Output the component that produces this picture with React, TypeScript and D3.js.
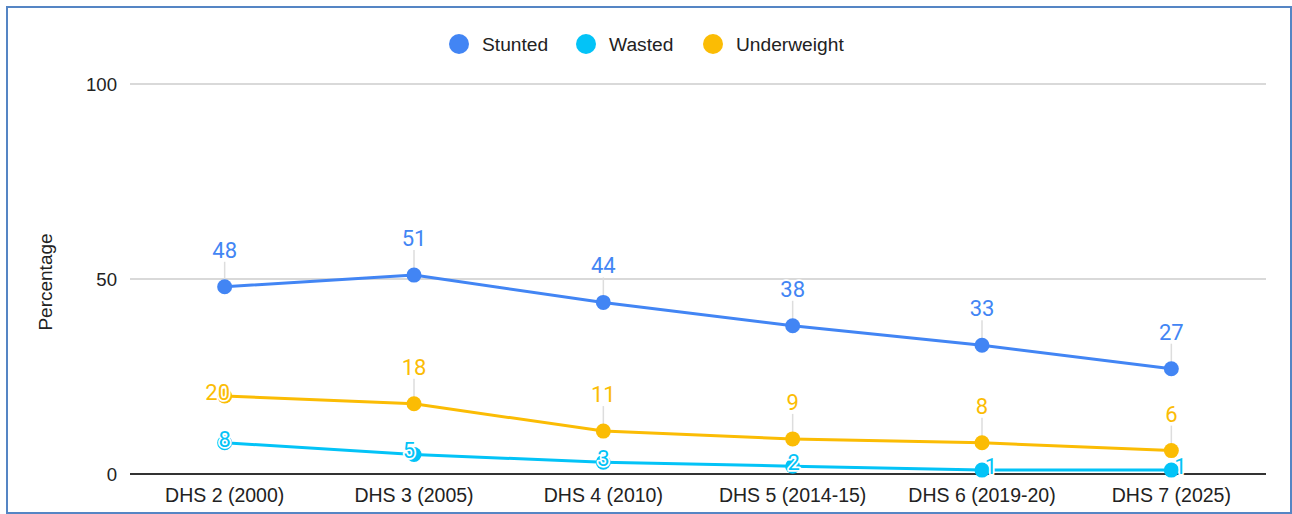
import React from "react";
import * as d3 from "d3";

const categories = ["DHS 2 (2000)", "DHS 3 (2005)", "DHS 4 (2010)", "DHS 5 (2014-15)", "DHS 6 (2019-20)", "DHS 7 (2025)"];
const stunted = [48, 51, 44, 38, 33, 27];
const wasted = [8, 5, 3, 2, 1, 1];
const underweight = [20, 18, 11, 9, 8, 6];
const yTicks = [0, 50, 100];

const seriesNames = ["Stunted", "Wasted", "Underweight"];
const seriesColors = ["#4285F4", "#03C3F7", "#FBBC04"];

// label placement style: "above" uses leader line, "on" sits at the point
const labelModes = [
  ["above", "above", "above", "above", "above", "above"],
  ["on", "on", "on", "on", "on", "on"],
  ["on", "above", "above", "above", "above", "above"],
];
const labelNudgeX = [
  [0, 0, 0, 0, 0, 0],
  [0, -5, 0, 1, 9, 9],
  [-7, 0, 0, 0, 0, 0],
];

const W = 1292;
const H = 514;
const left = 130;
const right = 1266;
const top = 84;
const bottom = 474;

export default function App() {
  const x = d3.scaleBand<string>().domain(categories).range([left, right]);
  const y = d3.scaleLinear().domain([0, 100]).range([bottom, top]);
  const cx = (c: string) => (x(c) ?? 0) + x.bandwidth() / 2;
  const allSeries = [stunted, wasted, underweight];
  const line = d3
    .line<number>()
    .x((_, i) => cx(categories[i]))
    .y((d) => y(d));

  const legendX = [459, 586, 713];

  return (
    <div style={{ position: "absolute", left: 0, top: 0 }}>
      <svg width={W} height={H} style={{ display: "block", background: "#fff" }}>
        <rect x={7} y={7} width={1284} height={506} fill="#fff" stroke="#5585c4" strokeWidth={2} />
        {/* legend */}
        {seriesNames.map((n, i) => (
          <g key={n}>
            <circle cx={legendX[i]} cy={44} r={10} fill={seriesColors[i]} />
            <text x={legendX[i] + 23} y={44} dy="0.35em" fontFamily="Arial, 'Liberation Sans', sans-serif" fontSize={19.2} fill="#222">
              {n}
            </text>
          </g>
        ))}
        {/* gridlines */}
        {yTicks.map((t) =>
          t === 0 ? null : (
            <line key={t} x1={left} x2={right} y1={y(t)} y2={y(t)} stroke="#cccccc" strokeWidth={1.5} />
          )
        )}
        {yTicks.map((t) => (
          <text key={"t" + t} x={117} y={y(t)} dy="0.35em" textAnchor="end" fontFamily="Arial, 'Liberation Sans', sans-serif" fontSize={18.6} fill="#222">
            {t}
          </text>
        ))}
        <text
          transform={`translate(45,${(top + bottom) / 2 + 3}) rotate(-90)`}
          dy="0.35em"
          textAnchor="middle"
          fontFamily="Arial, 'Liberation Sans', sans-serif"
          fontSize={19}
          fill="#222"
        >
          Percentage
        </text>
        {/* category labels */}
        {categories.map((c) => (
          <text key={c} x={cx(c)} y={495} dy="0.35em" textAnchor="middle" fontFamily="Arial, 'Liberation Sans', sans-serif" fontSize={19.5} fill="#222">
            {c}
          </text>
        ))}
        {/* leader lines */}
        {allSeries.map((s, si) =>
          s.map((v, i) =>
            labelModes[si][i] === "above" ? (
              <line key={`l${si}-${i}`} x1={cx(categories[i])} x2={cx(categories[i])} y1={y(v) - 25} y2={y(v)} stroke="#dddddd" strokeWidth={1.5} />
            ) : null
          )
        )}
        {/* baseline */}
        <line x1={left} x2={right} y1={y(0)} y2={y(0)} stroke="#333" strokeWidth={2} />
        {/* lines */}
        {allSeries.map((s, si) => (
          <path key={"p" + si} d={line(s) ?? ""} fill="none" stroke={seriesColors[si]} strokeWidth={3} />
        ))}
        {/* points */}
        {allSeries.map((s, si) =>
          s.map((v, i) => <circle key={`c${si}-${i}`} cx={cx(categories[i])} cy={y(v)} r={7.5} fill={seriesColors[si]} />)
        )}
        {/* data labels */}
        {allSeries.map((s, si) =>
          s.map((v, i) => {
            const mode = labelModes[si][i];
            const px = cx(categories[i]) + labelNudgeX[si][i];
            const py = mode === "above" ? y(v) - 37 : y(v) - 4;
            return (
              <text
                key={`t${si}-${i}`}
                x={px}
                y={py}
                dy="0.36em"
                textAnchor="middle"
                fontFamily="Roboto, sans-serif"
                fontSize={22}
                fill={seriesColors[si]}
                stroke="#fff"
                strokeWidth={3.5}
                paintOrder="stroke"
                strokeLinejoin="round"
              >
                {v}
              </text>
            );
          })
        )}
      </svg>
    </div>
  );
}
